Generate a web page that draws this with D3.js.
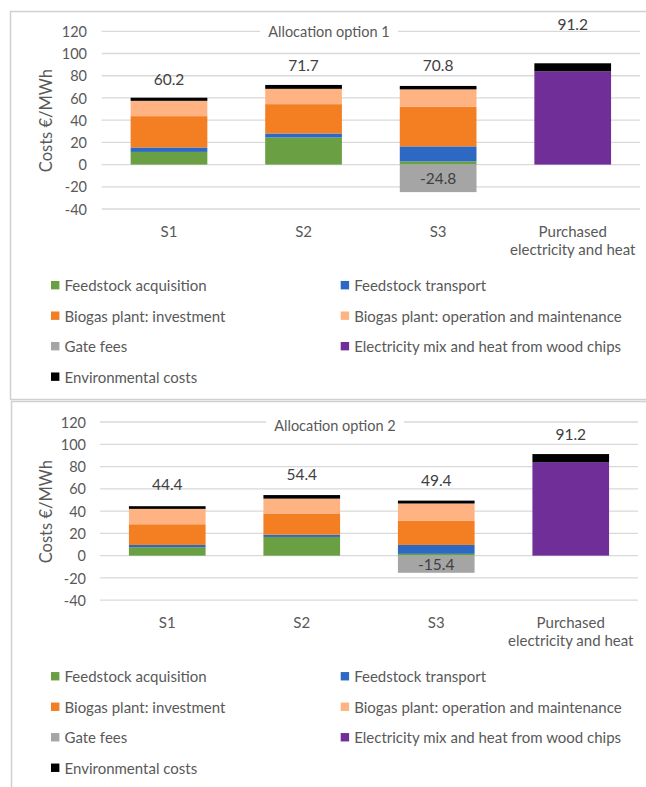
<!DOCTYPE html>
<html>
<head>
<meta charset="utf-8">
<script src="https://cdn.jsdelivr.net/npm/d3@7"></script>
<style>
  html, body { margin: 0; padding: 0; background: #ffffff; }
  svg { display: block; font-family: Lato, "Open Sans", sans-serif; }
</style>
</head>
<body>
<div id="chart"></div>
<script>
// ---------- data ----------
const categories = ["S1", "S2", "S3", "Purchased electricity and heat"];
const seriesNames = [
  "Feedstock acquisition",
  "Feedstock transport",
  "Biogas plant: investment",
  "Biogas plant: operation and maintenance",
  "Gate fees",
  "Electricity mix and heat from wood chips",
  "Environmental costs"
];
const yTicks = [-40, -20, 0, 20, 40, 60, 80, 100, 120];

// Allocation option 1 (€/MWh)
const acquisition1 = [11.4, 24.4, 2.8, 0];
const transport1   = [4.0, 3.6, 13.6, 0];
const investment1  = [28.2, 26.4, 35.6, 0];
const operation1   = [13.8, 13.8, 15.7, 0];
const gateFees1    = [0, 0, -24.8, 0];
const elecHeat1    = [0, 0, 0, 84.0];
const environment1 = [2.8, 3.5, 3.1, 7.2];

// Allocation option 2 (€/MWh)
const acquisition2 = [7.6, 16.8, 1.6, 0];
const transport2   = [2.0, 2.0, 8.0, 0];
const investment2  = [18.6, 18.6, 21.6, 0];
const operation2   = [13.8, 13.8, 15.6, 0];
const gateFees2    = [0, 0, -15.4, 0];
const elecHeat2    = [0, 0, 0, 84.0];
const environment2 = [2.4, 3.2, 2.6, 7.2];

// ---------- styling / layout ----------
const colors = ["#6a9f44", "#2d69c3", "#f47e22", "#ffb383", "#a5a5a5", "#702f98", "#000000"];
const textColor = "#595959";
const labelColor = "#404040";
const fmt1 = v => d3.format(".1f")(v).replace("\u2212", "-");

const panels = [
  {
    title: "Allocation option 1",
    series: [acquisition1, transport1, investment1, operation1, gateFees1, elecHeat1, environment1],
    yRange: [209.0, 31.3], xRange: [101.7, 640], titleX: 329, titleGap: [260, 398], titleDy: 0,
    lift: [18.3, 19.8, 20.8, 38.9], tickX: 87,
    box: {x: 10.5, y: 11.5, w: 650, h: 388}
  },
  {
    title: "Allocation option 2",
    series: [acquisition2, transport2, investment2, operation2, gateFees2, elecHeat2, environment2],
    yRange: [600.2, 422.0], xRange: [100, 638], titleX: 335, titleGap: [266, 404], titleDy: 3,
    lift: [22.3, 20.6, 20.4, 19.7], tickX: 86,
    box: {x: 11.5, y: 401.5, w: 650, h: 400}
  }
];

const W = 646, H = 787;
const svg = d3.select("#chart").append("svg")
  .attr("width", W).attr("height", H)
  .attr("viewBox", `0 0 ${W} ${H}`);

svg.append("rect").attr("width", W).attr("height", H).attr("fill", "#fff");

panels.forEach(p => {
  const g = svg.append("g");

  // panel frame
  g.append("rect")
    .attr("x", p.box.x).attr("y", p.box.y)
    .attr("width", p.box.w).attr("height", p.box.h)
    .attr("fill", "none").attr("stroke", "#d0d0d0").attr("stroke-width", 1.5);

  const y = d3.scaleLinear().domain([-40, 120]).range(p.yRange);
  const x = d3.scaleBand().domain(categories).range(p.xRange)
    .paddingInner(0.43).paddingOuter(0.215);

  // gridlines
  g.append("g").selectAll("line").data(yTicks).join("line")
    .attr("x1", p.xRange[0]).attr("x2", p.xRange[1])
    .attr("y1", d => y(d)).attr("y2", d => y(d))
    .attr("stroke", "#d9d9d9").attr("stroke-width", 1.3);

  // y axis tick labels
  const yAxis = d3.axisLeft(y).tickValues(yTicks).tickSize(0).tickPadding(0)
    .tickFormat(d => String(d));
  const ya = g.append("g").attr("transform", `translate(${p.tickX},0)`).call(yAxis);
  ya.select(".domain").remove();
  ya.selectAll("text")
    .attr("fill", textColor).attr("font-size", 14.5)
    .attr("font-family", 'Lato, "Open Sans", sans-serif')
    .attr("dy", "0.35em");

  // y axis title
  g.append("text")
    .attr("transform", `translate(46,${y(0) - 44}) rotate(-90)`)
    .attr("text-anchor", "middle").attr("dominant-baseline", "central")
    .attr("fill", textColor).attr("font-size", 16.5)
    .text("Costs €/MWh");

  // stacked data
  const rows = categories.map((c, i) => {
    const r = {category: c};
    seriesNames.forEach((s, k) => { r[s] = p.series[k][i]; });
    return r;
  });
  const stacked = d3.stack().keys(seriesNames)
    .offset(d3.stackOffsetDiverging)(rows);

  g.append("g").selectAll("g").data(stacked).join("g")
    .attr("fill", (d, k) => colors[k])
    .selectAll("rect").data(d => d.filter(v => v[1] !== v[0])).join("rect")
    .attr("x", d => x(d.data.category))
    .attr("width", x.bandwidth())
    .attr("y", d => y(Math.max(d[0], d[1])))
    .attr("height", d => Math.abs(y(d[0]) - y(d[1])));

  // gate fees labels (inside the negative bar)
  const gateIdx = seriesNames.indexOf("Gate fees");
  categories.forEach((c, i) => {
    const v = p.series[gateIdx][i];
    if (v < 0) {
      g.append("text")
        .attr("x", x(c) + x.bandwidth() / 2)
        .attr("y", y(v / 2))
        .attr("text-anchor", "middle").attr("dominant-baseline", "central")
        .attr("fill", labelColor).attr("font-size", 15.5)
        .text(fmt1(v));
    }
  });

  // total labels above bars
  categories.forEach((c, i) => {
    const total = d3.sum(p.series, s => Math.max(0, s[i]));
    g.append("text")
      .attr("x", x(c) + x.bandwidth() / 2)
      .attr("y", y(total) - p.lift[i])
      .attr("text-anchor", "middle").attr("dominant-baseline", "central")
      .attr("fill", labelColor).attr("font-size", 15.5)
      .text(fmt1(total));
  });

  // chart title over gridline
  g.append("rect")
    .attr("x", p.titleGap[0]).attr("y", y(120) - 6)
    .attr("width", p.titleGap[1] - p.titleGap[0]).attr("height", 12)
    .attr("fill", "#fff");
  g.append("text")
    .attr("x", p.titleX).attr("y", y(120) + p.titleDy)
    .attr("text-anchor", "middle").attr("dominant-baseline", "central")
    .attr("fill", textColor).attr("font-size", 14.5)
    .text(p.title);

  // category labels
  categories.forEach(c => {
    const cx = x(c) + x.bandwidth() / 2;
    const lines = c === "Purchased electricity and heat" ? ["Purchased", "electricity and heat"] : [c];
    lines.forEach((ln, j) => {
      g.append("text")
        .attr("x", cx).attr("y", y(0) + 66 + j * 18)
        .attr("text-anchor", "middle").attr("dominant-baseline", "central")
        .attr("fill", textColor).attr("font-size", 15)
        .text(ln);
    });
  });

  // legend
  const legendTop = y(0) + 120.6;
  const colX = [51, 340.7];
  seriesNames.forEach((s, k) => {
    const col = k % 2, row = Math.floor(k / 2);
    const ly = legendTop + row * 30.5;
    g.append("rect")
      .attr("x", colX[col]).attr("y", ly - 4.2)
      .attr("width", 8.4).attr("height", 8.4)
      .attr("fill", colors[k]);
    g.append("text")
      .attr("x", colX[col] + 13.5).attr("y", ly)
      .attr("dominant-baseline", "central")
      .attr("fill", textColor).attr("font-size", 15)
      .text(s);
  });
});
</script>
</body>
</html>
